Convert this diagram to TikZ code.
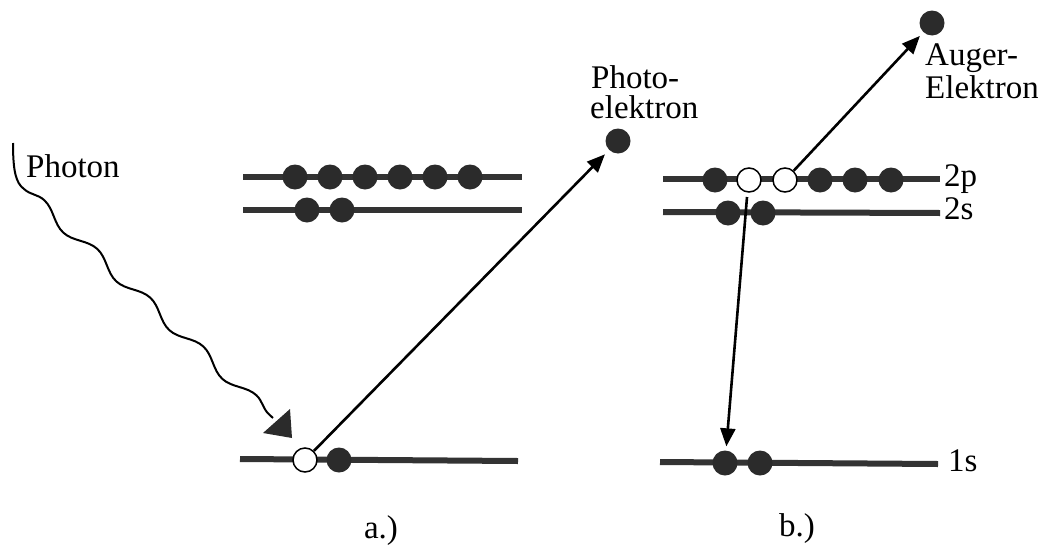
\documentclass[tikz,border=0pt]{standalone}
\usepackage{fontspec}
\setmainfont{Liberation Serif}
\usetikzlibrary{arrows.meta,decorations.pathmorphing}
\definecolor{lvl}{HTML}{333333}
\definecolor{elec}{HTML}{2B2B2B}
\begin{document}
\begin{tikzpicture}[x=1pt,y=-1pt,
  level/.style={draw=lvl,line width=6pt},
  full/.style={circle,fill=elec,minimum size=25pt,inner sep=0pt},
  hole/.style={circle,draw=black,line width=1.5pt,fill=white,minimum size=24pt,inner sep=0pt},
  jump/.style={draw=black,line width=2.6pt,-{Triangle[length=18pt,width=15pt]}},
  lbl/.style={font=\fontsize{33}{33}\selectfont,inner sep=0pt}]
\path[use as bounding box,fill=white] (0,0) rectangle (1038,549);

% ---------- panel a ----------
\coordinate (a2pL) at (243,177); \coordinate (a2pR) at (522,177);
\coordinate (a2sL) at (243,210); \coordinate (a2sR) at (522,210);
\coordinate (a1sL) at (240,459); \coordinate (a1sR) at (518,461);
\draw[level] (a2pL) -- (a2pR);
\draw[level] (a2sL) -- (a2sR);
\draw[level] (a1sL) -- (a1sR);
\foreach \x/\n in {295/1,330/2,365/3,400/4,435/5,470/6}
  \node[full] (ap\n) at (\x,177) {};
\node[full] (as1) at (307,210) {};
\node[full] (as2) at (342,210) {};
\node[hole] (ah) at (305,460) {};
\node[full] (a1) at (339,460) {};
\node[full] (pe) at (618,141) {};
\draw[jump,shorten >=6pt] (ah) -- (pe);
\node[lbl,anchor=base west] (petxt1) at (591,88) {Photo-};
\node[lbl,anchor=base west] (petxt2) at (590,118) {elektron};

% photon
\coordinate (ph0) at (13,143);
\coordinate (ph1) at (24,189);
\coordinate (ph2) at (273,418);
\draw[line width=2pt,black] (ph0) .. controls (13,172) and (16,183) .. (ph1)
  decorate[decoration={snake,amplitude=5.5pt,segment length=72pt}] {-- (ph2)};
\fill[elec] (263,433) -- (290,409) -- (292,438) -- cycle;
\node[lbl,anchor=base west] (phtxt) at (26,177) {Photon};

\node[lbl,anchor=base] (la) at (381,538) {a.)};

% ---------- panel b ----------
\coordinate (b2pL) at (663,179); \coordinate (b2pR) at (940,179);
\coordinate (b2sL) at (663,212); \coordinate (b2sR) at (940,213);
\coordinate (b1sL) at (660,462); \coordinate (b1sR) at (938,464);
\draw[level] (b2pL) -- (b2pR);
\draw[level] (b2sL) -- (b2sR);
\draw[level] (b1sL) -- (b1sR);
\node[full] (bp1) at (715,180) {};
\node[hole] (bh1) at (749,180) {};
\node[hole] (bh2) at (785,180) {};
\node[full] (bp4) at (820,180) {};
\node[full] (bp5) at (855,180) {};
\node[full] (bp6) at (891,180) {};
\node[full] (bs1) at (728,213) {};
\node[full] (bs2) at (763,213) {};
\node[full] (b11) at (725,463) {};
\node[full] (b12) at (760,463) {};
\node[full] (ae) at (932,23) {};
\coordinate (bstart) at (747,197);
\draw[jump,shorten >=4pt] (bstart) -- (b11);
\draw[jump,shorten >=5pt] (bh2) -- (ae);
\node[lbl,anchor=base west] (aetxt1) at (925,65) {Auger-};
\node[lbl,anchor=base west] (aetxt2) at (925,98) {Elektron};
\node[lbl,anchor=base west] (l2p) at (944,186) {2p};
\node[lbl,anchor=base west] (l2s) at (944,219) {2s};
\node[lbl,anchor=base west] (l1s) at (948,471) {1s};

\node[lbl,anchor=base] (lb) at (797,536) {b.)};
\end{tikzpicture}
\end{document}
